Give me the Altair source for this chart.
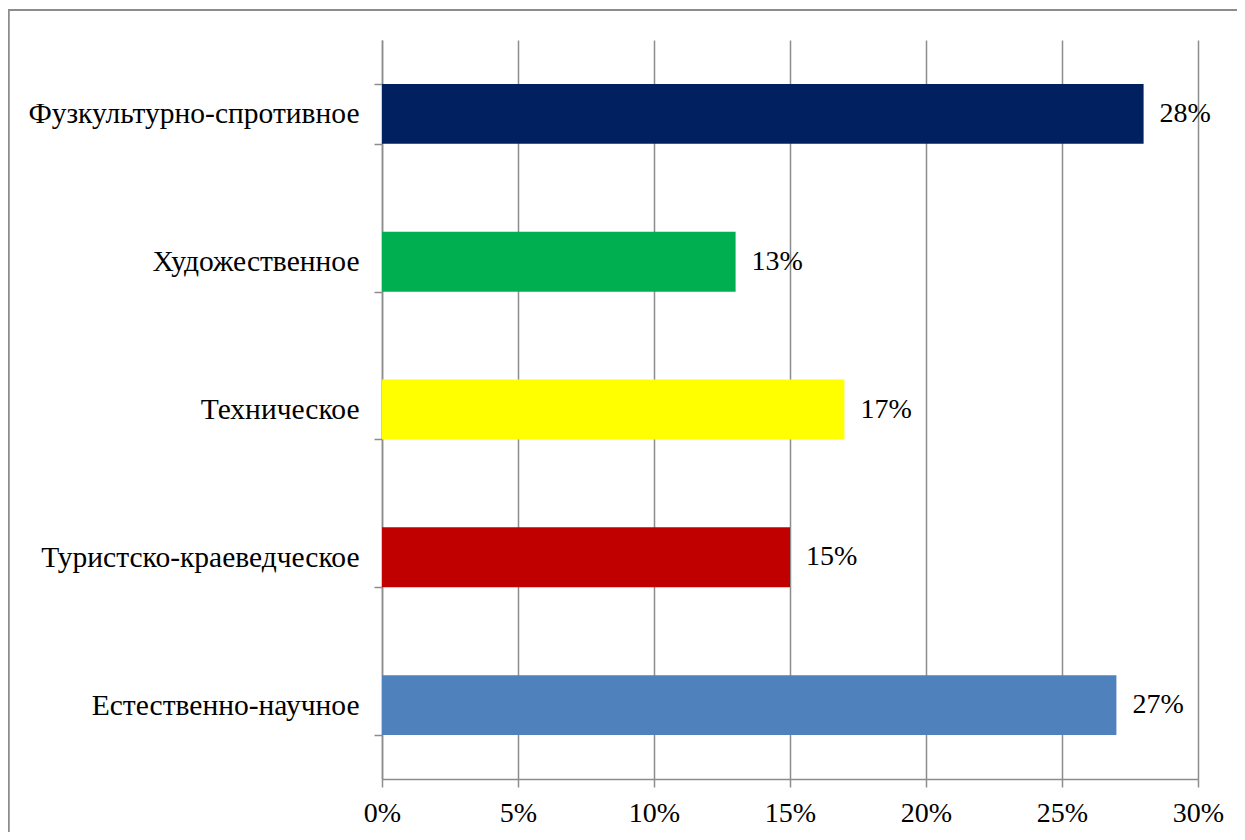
import altair as alt
import pandas as pd

categories = ["Фузкультурно-спротивное", "Художественное", "Техническое",
              "Туристско-краеведческое", "Естественно-научное"]
values = [0.28, 0.13, 0.17, 0.15, 0.27]
colors = ["#002060", "#00B050", "#FFFF00", "#C00000", "#4F81BD"]
x_ticks = [0, 0.05, 0.10, 0.15, 0.20, 0.25, 0.30]

df = pd.DataFrame({"cat": categories, "val": values, "col": colors})

FONT = "Times New Roman, Liberation Serif, serif"
FS = 28
GRAY = "#8C8C8C"

y_enc = alt.Y("cat:N", sort=categories, title=None,
              scale=alt.Scale(paddingInner=0.595, paddingOuter=0.2975),
              axis=alt.Axis(domainColor=GRAY, tickColor=GRAY, tickSize=8, tickWidth=1.5,
                            domainWidth=1.5, tickBand="extent", labelFont=FONT,
                            labelFontSize=29.5, labelColor="black", labelPadding=15,
                            labelLimit=0, grid=False))
x_enc = alt.X("val:Q", title=None,
              scale=alt.Scale(domain=[0, 0.30], nice=False),
              axis=alt.Axis(values=x_ticks, format=".0%", domainColor=GRAY, tickColor=GRAY,
                            tickSize=8, tickWidth=1.5, domainWidth=1.5,
                            gridColor=GRAY, gridWidth=1.5, labelFont=FONT,
                            labelFontSize=FS, labelColor="black", labelPadding=12,
                            labelFlush=False, labelOverlap=False))

bars = alt.Chart(df).mark_bar().encode(
    y=y_enc, x=x_enc,
    color=alt.Color("col:N", scale=None, legend=None),
)

labels = alt.Chart(df).mark_text(align="left", baseline="middle", dx=16,
                                 font=FONT, fontSize=FS, color="black").encode(
    y=alt.Y("cat:N", sort=categories),
    x=alt.X("val:Q"),
    text=alt.Text("val:Q", format=".0%"),
)

frame_top = alt.Chart(df).mark_rule(color=GRAY, strokeWidth=1.5).encode(
    x=alt.value(-374), x2=alt.value(860), y=alt.value(-30))
frame_left = alt.Chart(df).mark_rule(color=GRAY, strokeWidth=1.5).encode(
    x=alt.value(-373.5), y=alt.value(-30), y2=alt.value(800))

chart = alt.layer(bars, labels, frame_top, frame_left).properties(
    width=816, height=739,
    autosize=alt.AutoSizeParams(type="none"),
    padding={"left": 374, "top": 32, "right": 39, "bottom": 53},
).configure_view(stroke=None)

chart.save("out.html", embed_options={"renderer": "svg", "actions": False})
